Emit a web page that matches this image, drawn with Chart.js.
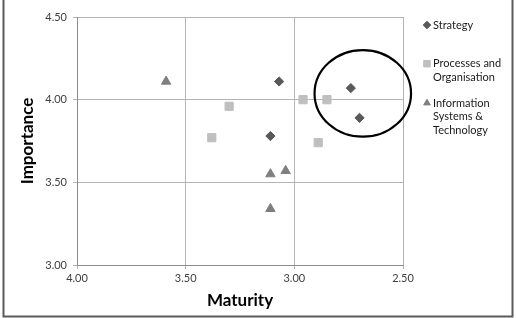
<!DOCTYPE html>
<html>
<head>
<meta charset="utf-8">
<script src="https://cdn.jsdelivr.net/npm/chart.js@4.4.1/dist/chart.umd.min.js"></script>
<style>
html,body{margin:0;padding:0;background:#fff;}
#wrap{position:relative;width:516px;height:318px;}
</style>
</head>
<body>
<div id="wrap"><canvas id="c" width="516" height="318"></canvas></div>
<script>
// data
var seriesNames = ["Strategy", "Processes and Organisation", "Information Systems & Technology"];
var legendLines = [["Strategy"], ["Processes and", "Organisation"], ["Information", "Systems &", "Technology"]];

var strategyMaturity   = [3.07, 3.11, 2.74, 2.70];
var strategyImportance = [4.11, 3.78, 4.07, 3.89];

var processMaturity   = [3.38, 3.30, 2.96, 2.85, 2.89];
var processImportance = [3.77, 3.96, 4.00, 4.00, 3.74];

var infoMaturity   = [3.59, 3.11, 3.04, 3.11];
var infoImportance = [4.11, 3.55, 3.57, 3.34];

var xTicks = [4.00, 3.50, 3.00, 2.50];
var yTicks = [3.00, 3.50, 4.00, 4.50];

// circled group (centre and radii in data units)
var ringCentre = [2.685, 4.038];
var ringRadius = [0.222, 0.262];

function pairs(xs, ys){
	var out = [];
	for(var i=0;i<xs.length;i++){
		out.push({x: xs[i], y: ys[i]});
	}
	return out;
}

var markerColors = ["#595959", "#bfbfbf", "#7f7f7f"];
var markerStyles = ["rectRot", "rect", "triangle"];
var markerSizes = [4.6, 5.8, 5.4];

var ringPlugin = {
	id: "ring",
	afterDatasetsDraw: function(chart){
		var ctx = chart.ctx, xs = chart.scales.x, ys = chart.scales.y;
		var cx = xs.getPixelForValue(ringCentre[0]);
		var cy = ys.getPixelForValue(ringCentre[1]);
		var rx = Math.abs(xs.getPixelForValue(ringCentre[0] + ringRadius[0]) - cx);
		var ry = Math.abs(ys.getPixelForValue(ringCentre[1] + ringRadius[1]) - cy);
		ctx.save();
		ctx.beginPath();
		ctx.ellipse(cx, cy, rx, ry, 0, 0, Math.PI*2);
		ctx.lineWidth = 2.2;
		ctx.strokeStyle = "#000";
		ctx.stroke();
		ctx.restore();
	}
};

var legendPlugin = {
	id: "sideLegend",
	afterDraw: function(chart){
		var ctx = chart.ctx;
		var left = chart.chartArea.right + 24;
		var tops = [25, 63.7, 103];
		ctx.save();
		ctx.font = "11px Lato";
		ctx.textBaseline = "middle";
		for(var i=0;i<legendLines.length;i++){
			ctx.fillStyle = markerColors[i];
			ctx.strokeStyle = markerColors[i];
			Chart.helpers.drawPoint(ctx, {pointStyle: markerStyles[i], radius: i==1 ? 4.6 : 3.8, borderWidth: 1}, left, tops[i]);
			ctx.fillStyle = "#1a1a1a";
			for(var j=0;j<legendLines[i].length;j++){
				ctx.fillText(legendLines[i][j], left + 6, tops[i] + j*13.6);
			}
		}
		// outer frame
		ctx.lineWidth = 2;
		ctx.strokeStyle = "#5a5a5a";
		ctx.strokeRect(3.5, -5, 509, 321.5);
		ctx.restore();
	}
};

var datasets = [];
var xsAll = [strategyMaturity, processMaturity, infoMaturity];
var ysAll = [strategyImportance, processImportance, infoImportance];
for(var k=0;k<seriesNames.length;k++){
	datasets.push({
		label: seriesNames[k],
		data: pairs(xsAll[k], ysAll[k]),
		pointStyle: markerStyles[k],
		pointRadius: markerSizes[k],
		pointHoverRadius: markerSizes[k],
		backgroundColor: markerColors[k],
		borderColor: markerColors[k],
		borderWidth: 1
	});
}

new Chart(document.getElementById("c"), {
	type: "scatter",
	data: {datasets: datasets},
	options: {
		responsive: false,
		devicePixelRatio: 1,
		animation: false,
		layout: {padding: {left: 0, right: 113, top: 17, bottom: 0}},
		plugins: {
			legend: {display: false},
			tooltip: {enabled: false}
		},
		scales: {
			x: {
				type: "linear",
				reverse: true,
				min: 2.5,
				max: 4.0,
				afterBuildTicks: function(scale){
					scale.ticks = xTicks.map(function(v){ return {value: v}; });
				},
				afterFit: function(scale){ scale.height = 53; },
				ticks: {
					padding: 3,
					color: "#404040",
					font: {family: "Lato", size: 11},
					callback: function(v){ return Number(v).toFixed(2); }
				},
				grid: {color: "#b3b3b3", lineWidth: 1, tickLength: 4},
				border: {color: "#8c8c8c", width: 1},
				title: {
					display: true,
					text: "Maturity",
					color: "#000",
					font: {family: "Lato", size: 17, weight: "bold"},
					padding: {top: 0, bottom: 7}
				}
			},
			y: {
				type: "linear",
				min: 3.0,
				max: 4.5,
				afterBuildTicks: function(scale){
					scale.ticks = yTicks.map(function(v){ return {value: v}; });
				},
				afterFit: function(scale){ scale.width = 77; },
				ticks: {
					padding: 6,
					color: "#404040",
					font: {family: "Lato", size: 11},
					callback: function(v){ return Number(v).toFixed(2); }
				},
				grid: {color: "#b3b3b3", lineWidth: 1, tickLength: 4},
				border: {color: "#8c8c8c", width: 1},
				title: {
					display: true,
					text: "Importance",
					color: "#000",
					font: {family: "Lato", size: 17, weight: "bold"},
					padding: {top: 17, bottom: 0}
				}
			}
		}
	},
	plugins: [ringPlugin, legendPlugin]
});
</script>
</body>
</html>
